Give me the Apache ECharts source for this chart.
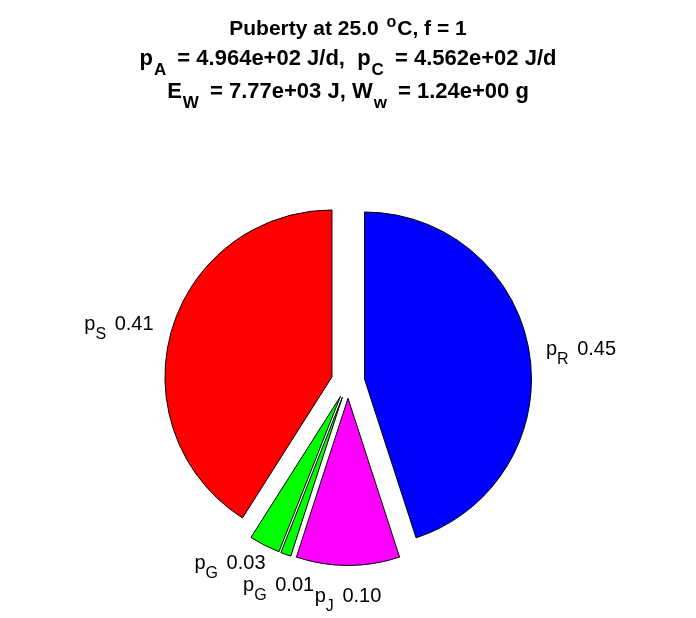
<!DOCTYPE html>
<html><head><meta charset="utf-8">
<script src="https://cdn.jsdelivr.net/npm/echarts@6/dist/echarts.min.js"></script>
<style>html,body{margin:0;padding:0;background:#fff}#c{width:696px;height:618px}</style>
</head><body><div id="c"></div>
<script>
// ---- data ----
const sliceSymbols = ['R', 'J', 'G', 'G', 'S'];
const sliceValues = [0.45, 0.10, 0.01, 0.03, 0.41];
const sliceLabels = ['0.45', '0.10', '0.01', '0.03', '0.41'];
const sliceColors = ['#0000ff', '#ff00ff', '#00ff00', '#00ff00', '#ff0000'];
const titleLines = [
  '{b|Puberty at 25.0 }{sup|o}{b|C, f = 1}',
  '{b|p}{sub|A}{b| = 4.964e+02 J/d,  p}{sub|C}{b| = 4.562e+02 J/d}',
  '{b|E}{sub|W}{b| = 7.77e+03 J, W}{sub|w}{b| = 1.24e+00 g}'
];

// ---- layout / style ----
const CX = 348, CY = 381.6, R = 167;
const TITLE_TOPS = [15, 48, 81];
const TITLE_SIZES = [21, 22, 22];
const TITLE_PADTOP = [4, 0, 0];
const LABEL_NUDGE = [[0, 0], [0, 0], [-1.5, 1], [-27, -11], [-2, 0]];
const FONT = 'Liberation Sans, Arial, Helvetica, sans-serif';

const total = sliceValues.reduce((a, b) => a + b, 0);
const midAngles = [];
{
  let cum = 0;
  sliceValues.forEach(v => {
    midAngles.push((90 - 360 * (cum + v / 2) / total) * Math.PI / 180);
    cum += v;
  });
}

function titleRich(fs, pt) {
  const ss = Math.round(fs * 0.77);
  return {
    b: { fontFamily: FONT, fontWeight: 'bold', fontSize: fs, color: '#000', lineHeight: fs + 3, padding: [pt, 0, 0, 0], verticalAlign: 'top' },
    sub: { fontFamily: FONT, fontWeight: 'bold', fontSize: ss, color: '#000', lineHeight: ss, padding: [Math.round(fs * 0.62) + pt, 5, 0, 1], verticalAlign: 'top' },
    sup: { fontFamily: FONT, fontWeight: 'bold', fontSize: ss, color: '#000', lineHeight: 5, padding: [0, 1, 0, 2], verticalAlign: 'top' }
  };
}

const labelRich = {
  p: { fontFamily: FONT, fontSize: 20, fill: '#000', lineHeight: 22, verticalAlign: 'top' },
  v: { fontFamily: FONT, fontSize: 20, fill: '#000', lineHeight: 22, verticalAlign: 'top' },
  s: { fontFamily: FONT, fontSize: 16, fill: '#000', lineHeight: 16, padding: [12, 3, 0, 0], verticalAlign: 'top' }
};

const labelGraphics = sliceValues.map((v, i) => {
  const a = midAngles[i];
  const c = Math.cos(a), s = Math.sin(a);
  const ax = CX + 1.2 * R * c;
  const ay = CY - 1.2 * R * s;
  const align = c > 0.5 ? 'left' : (c < -0.5 ? 'right' : 'center');
  const top = s < -0.5 ? ay + 4.5 : ay - 11;
  return {
    type: 'text',
    x: ax + LABEL_NUDGE[i][0],
    y: top + LABEL_NUDGE[i][1],
    silent: true,
    style: {
      text: '{p|p}{s|' + sliceSymbols[i] + '}{v| ' + sliceLabels[i] + '}',
      rich: labelRich,
      align: align,
      verticalAlign: 'top',
      fill: '#000',
      font: '20px ' + FONT
    }
  };
});

const chart = echarts.init(document.getElementById('c'), null, { renderer: 'canvas' });
chart.setOption({
  animation: false,
  backgroundColor: '#fff',
  title: titleLines.map((t, i) => ({
    text: t, left: 'center', top: TITLE_TOPS[i], padding: 0,
    textStyle: { rich: titleRich(TITLE_SIZES[i], TITLE_PADTOP[i]) }
  })),
  graphic: labelGraphics,
  series: [{
    type: 'pie',
    center: [CX, CY],
    radius: R,
    startAngle: 90,
    clockwise: true,
    selectedMode: 'multiple',
    selectedOffset: R * 0.1,
    avoidLabelOverlap: false,
    emphasis: { disabled: true },
    itemStyle: { borderColor: '#000', borderWidth: 1 },
    select: { itemStyle: { borderColor: '#000', borderWidth: 1 } },
    label: { show: false },
    labelLine: { show: false },
    data: sliceValues.map((v, i) => ({
      value: v,
      name: 'p' + sliceSymbols[i] + i,
      selected: true,
      itemStyle: { color: sliceColors[i] },
      select: { itemStyle: { color: sliceColors[i], borderColor: '#000', borderWidth: 1 } }
    }))
  }]
});
</script>
</body></html>
